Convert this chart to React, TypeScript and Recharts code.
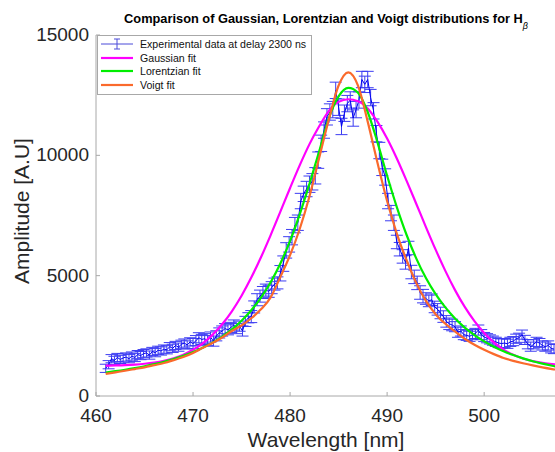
import { LineChart, Line, XAxis, YAxis, ErrorBar, Legend } from "recharts";

// measured H-beta profile, delay 2300 ns
const wavelengths = [
  461.0, 461.3, 461.6, 461.9, 462.2, 462.5, 462.8, 463.1, 463.4, 463.7,
  464.0, 464.3, 464.6, 464.9, 465.2, 465.5, 465.8, 466.1, 466.4, 466.7,
  467.0, 467.3, 467.6, 467.9, 468.2, 468.5, 468.8, 469.1, 469.4, 469.7,
  470.0, 470.3, 470.6, 470.9, 471.2, 471.5, 471.8, 472.1, 472.4, 472.7,
  473.0, 473.3, 473.6, 473.9, 474.2, 474.5, 474.8, 475.1, 475.4, 475.7,
  476.0, 476.3, 476.6, 476.9, 477.2, 477.5, 477.8, 478.1, 478.4, 478.7,
  479.0, 479.3, 479.6, 479.9, 480.2, 480.5, 480.8, 481.1, 481.4, 481.7,
  482.0, 482.3, 482.6, 482.9, 483.2, 483.5, 483.8, 484.1, 484.4, 484.7,
  485.0, 485.3, 485.6, 485.9, 486.2, 486.5, 486.8, 487.1, 487.4, 487.7,
  488.0, 488.3, 488.6, 488.9, 489.2, 489.5, 489.8, 490.1, 490.4, 490.7,
  491.0, 491.3, 491.6, 491.9, 492.2, 492.5, 492.8, 493.1, 493.4, 493.7,
  494.0, 494.3, 494.6, 494.9, 495.2, 495.5, 495.8, 496.1, 496.4, 496.7,
  497.0, 497.3, 497.6, 497.9, 498.2, 498.5, 498.8, 499.1, 499.4, 499.7,
  500.0, 500.3, 500.6, 500.9, 501.2, 501.5, 501.8, 502.1, 502.4, 502.7,
  503.0, 503.3, 503.6, 503.9, 504.2, 504.5, 504.8, 505.1, 505.4, 505.7,
  506.0, 506.3, 506.6, 506.9, 507.2,
];
const amplitude = [
  1150, 1300, 1550, 1480, 1600, 1520, 1580, 1620, 1550, 1660,
  1600, 1720, 1680, 1760, 1790, 1700, 1850, 1800, 1900, 1870,
  1950, 1920, 2050, 1980, 2100, 2030, 2150, 2200, 2120, 2250,
  2180, 2300, 2420, 2350, 2380, 2300, 2450, 2280, 2500, 2620,
  2700, 2800, 2750, 2850, 2950, 2800, 2900, 2700, 3100, 3250,
  3300, 3700, 4000, 4150, 4300, 4400, 4350, 4500, 4650, 4700,
  5100, 5500, 6050, 6300, 6600, 7100, 7200, 8100, 8400, 8600,
  8800, 8900, 9150, 9800, 10500, 11050, 11600, 11800, 11900, 12700,
  12000, 11200, 11750, 12150, 12300, 11550, 11900, 12300, 13150, 12950,
  13150, 12400, 11850, 10900, 10200, 9500, 9100, 8100, 7600, 7200,
  6400, 6100, 5800, 5550, 6150, 5150, 4950, 4700, 4300, 4150,
  4050, 3950, 4000, 3700, 3600, 3450, 3300, 3100, 3000, 2950,
  2880, 2650, 2700, 2550, 2520, 2480, 2550, 2600, 2740, 2550,
  2450, 2400, 2350, 2300, 2250, 2200, 2180, 2200, 2170, 2250,
  2280, 2380, 2420, 2550, 2330, 2150, 2050, 2150, 2250, 2200,
  2100, 2050, 2100, 1980, 1950,
];
const amplitudeErr = [
  170, 170, 170, 170, 170, 170, 170, 170, 170, 170,
  170, 170, 170, 170, 170, 170, 170, 170, 170, 170,
  170, 170, 170, 170, 170, 170, 170, 170, 170, 170,
  210, 210, 210, 210, 210, 210, 210, 210, 210, 210,
  210, 210, 210, 210, 210, 210, 210, 210, 210, 210,
  250, 250, 250, 250, 250, 250, 250, 250, 250, 250,
  320, 320, 320, 320, 320, 320, 320, 320, 320, 320,
  340, 340, 340, 340, 340, 340, 340, 340, 340, 340,
  340, 340, 340, 340, 340, 340, 340, 340, 340, 340,
  340, 340, 340, 340, 340, 340, 340, 320, 320, 320,
  280, 280, 280, 280, 280, 280, 280, 280, 280, 280,
  240, 240, 240, 240, 240, 240, 240, 240, 240, 240,
  210, 210, 210, 210, 210, 210, 210, 210, 210, 210,
  190, 190, 190, 190, 190, 190, 190, 190, 190, 190,
  190, 190, 190, 190, 190, 190, 190, 190, 190, 190,
  190, 190, 190, 190, 190,
];

const fitWavelengths = [
  461, 462, 463, 464, 465, 466, 467, 468, 469, 470, 471, 472, 473, 474, 475, 476,
  477, 478, 479, 480, 481, 482, 483, 484, 485, 486, 487, 488, 489, 490, 491, 492,
  493, 494, 495, 496, 497, 498, 499, 500, 501, 502, 503, 504, 505, 506, 507, 508,
];
const gaussianFit = [
  1262, 1271, 1284, 1306, 1340, 1390, 1464, 1570, 1718, 1921, 2189, 2539, 2979, 3520, 4167, 4919,
  5765, 6687, 7659, 8643, 9593, 10466, 11206, 11850, 12220, 12330, 12250, 11950, 11400, 10700, 9870, 8950,
  7990, 7020, 6080, 5200, 4400, 3700, 3110, 2620, 2230, 1930, 1710, 1560, 1450, 1380, 1330, 1300,
];
const lorentzianFit = [
  976, 1030, 1090, 1158, 1235, 1323, 1423, 1538, 1671, 1824, 2005, 2217, 2466, 2766, 3128, 3564,
  4088, 4729, 5508, 6446, 7557, 8821, 10166, 11550, 12450, 12800, 12600, 11800, 10550, 9150, 7850, 6700,
  5720, 4900, 4230, 3680, 3220, 2840, 2530, 2270, 2050, 1860, 1700, 1565, 1445, 1345, 1255, 1175,
];
const voigtFit = [
  920, 985, 1050, 1120, 1190, 1280, 1370, 1490, 1620, 1790, 2000, 2200, 2430, 2700, 2930, 3230,
  3600, 4100, 4950, 5850, 6950, 8300, 9900, 11500, 12900, 13450, 12900, 11400, 9700, 8100, 6750, 5650,
  4700, 3950, 3400, 3000, 2680, 2380, 2130, 1920, 1740, 1580, 1460, 1360, 1270, 1190, 1120, 1060,
];

const xTicks = [460, 470, 480, 490, 500];
const yTicks = [0, 5000, 10000, 15000];

const measured = wavelengths.map((wl, i) => ({ wl, amp: amplitude[i], err: amplitudeErr[i] }));
const fits = fitWavelengths.map((wl, i) => ({
  wl,
  gauss: gaussianFit[i],
  lorentz: lorentzianFit[i],
  voigt: voigtFit[i],
}));

const FONT = '"Liberation Sans", Arial, Helvetica, sans-serif';
const AXIS = "#a8a8a8";
const INK = "#262626";
const DATA_BLUE = "#0000f0";
const BAR_BLUE = "#3c3cf2";
const MAGENTA = "#ff00ff";
const GREEN = "#00ee00";
const ORANGE = "#fa6a2c";

const legendRows = [
  { label: "Experimental data at delay 2300 ns", color: "#4a4ad8", bar: true },
  { label: "Gaussian fit", color: MAGENTA, bar: false },
  { label: "Lorentzian fit", color: GREEN, bar: false },
  { label: "Voigt fit", color: ORANGE, bar: false },
];

function XTick({ x, y, payload }: any) {
  return (
    <g>
      <line x1={x} x2={x} y1={y} y2={y - 4} stroke={AXIS} />
      <text x={x} y={y + 26} textAnchor="middle" fontSize={19} fill={INK} fontFamily={FONT}>
        {payload.value}
      </text>
    </g>
  );
}

function YTick({ x, y, payload }: any) {
  return (
    <g>
      <line x1={x} x2={x + 4} y1={y} y2={y} stroke={AXIS} />
      <text x={x - 7} y={y + 6} textAnchor="end" fontSize={19} fill={INK} fontFamily={FONT}>
        {payload.value}
      </text>
    </g>
  );
}

function FitLegend() {
  return (
    <div
      style={{
        width: 213,
        height: 57,
        border: `1px solid ${AXIS}`,
        background: "#fff",
        paddingTop: 1,
        fontFamily: FONT,
        fontSize: 10.6,
        color: "#111",
      }}
    >
      {legendRows.map((row) => (
        <div key={row.label} style={{ display: "flex", alignItems: "center", height: 13.8 }}>
          <svg width={34} height={12} style={{ marginLeft: 2, marginRight: 6 }}>
            <line x1={1} x2={33} y1={6} y2={6} stroke={row.color} strokeWidth={row.bar ? 1 : 2.2} />
            {row.bar && (
              <g stroke={row.color} strokeWidth={1}>
                <line x1={17} x2={17} y1={1} y2={11} />
                <line x1={14} x2={20} y1={1} y2={1} />
                <line x1={14} x2={20} y1={11} y2={11} />
              </g>
            )}
          </svg>
          <span style={{ whiteSpace: "nowrap" }}>{row.label}</span>
        </div>
      ))}
    </div>
  );
}

export default function App() {
  return (
    <div style={{ position: "fixed", left: 0, top: 0, width: 555, height: 452, background: "#fff" }}>
      <LineChart
        width={555}
        height={452}
        margin={{ top: 35, right: 0, bottom: 0, left: 0 }}
        style={{ fontFamily: FONT }}
      >
        <XAxis
          type="number"
          dataKey="wl"
          domain={[460, 507.3]}
          ticks={xTicks}
          allowDataOverflow
          height={56}
          tickSize={0}
          tickMargin={0}
          tick={XTick}
          axisLine={{ stroke: AXIS }}
        />
        <YAxis
          type="number"
          domain={[0, 15000]}
          ticks={yTicks}
          allowDataOverflow
          width={96}
          tickSize={0}
          tickMargin={0}
          tick={YTick}
          axisLine={{ stroke: AXIS }}
        />
        <Legend
          layout="horizontal"
          verticalAlign="middle"
          align="center"
          wrapperStyle={{ left: 97, top: 35, width: 215 }}
          content={() => <FitLegend />}
        />
        <Line
          data={measured}
          dataKey="amp"
          type="linear"
          stroke={DATA_BLUE}
          strokeWidth={1}
          dot={false}
          isAnimationActive={false}
        >
          <ErrorBar dataKey="err" direction="y" width={6} stroke={BAR_BLUE} strokeWidth={1} isAnimationActive={false} />
        </Line>
        <Line data={fits} dataKey="gauss" type="monotone" stroke={MAGENTA} strokeWidth={2.2} dot={false} isAnimationActive={false} />
        <Line data={fits} dataKey="lorentz" type="monotone" stroke={GREEN} strokeWidth={2.2} dot={false} isAnimationActive={false} />
        <Line data={fits} dataKey="voigt" type="monotone" stroke={ORANGE} strokeWidth={2.2} dot={false} isAnimationActive={false} />
        <text x={326} y={23} textAnchor="middle" fontSize={12.8} fontWeight="bold" fill="#000" fontFamily={FONT}>
          Comparison of Gaussian, Lorentzian and Voigt distributions for H
          <tspan dy={6} fontSize={9} fontStyle="italic" fontWeight="normal">β</tspan>
        </text>
        <text
          x={29}
          y={211}
          transform="rotate(-90 29 211)"
          textAnchor="middle"
          fontSize={21}
          fill={INK}
          fontFamily={FONT}
        >
          Amplitude [A.U]
        </text>
        <text x={326} y={447} textAnchor="middle" fontSize={21} fill={INK} fontFamily={FONT}>
          Wavelength [nm]
        </text>
      </LineChart>
    </div>
  );
}
